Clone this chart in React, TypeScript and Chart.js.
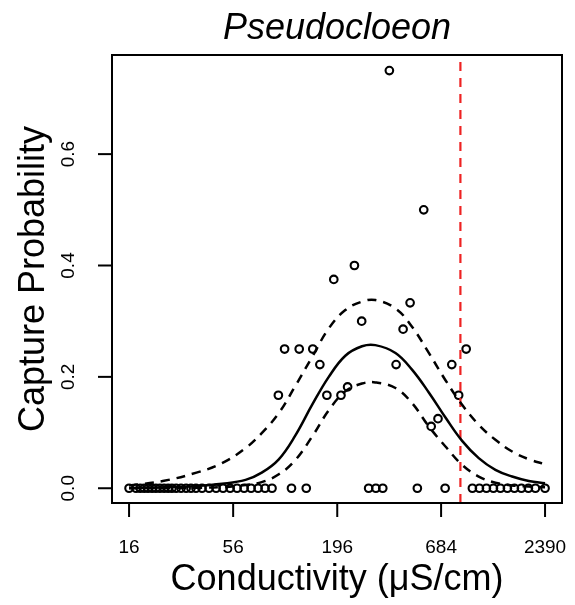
import React, { useEffect, useRef } from "react";
import { Chart, registerables } from "chart.js";

Chart.register(...registerables);

const TITLE = "Pseudocloeon";
const X_LABEL = "Conductivity (μS/cm)";
const Y_LABEL = "Capture Probability";
const X_TICKS = [16, 56, 196, 684, 2390];
const Y_TICKS = [0, 0.2, 0.4, 0.6];
const X_MIN = 13.03;
const X_MAX = 2931;
const Y_MIN = -0.0265;
const Y_MAX = 0.778;
const THRESHOLD = 863;

// observed capture probabilities (non-zero)
const OBS_COND_POS = [367, 555, 241, 188, 471, 263, 433, 104, 124, 146, 925, 159, 398, 778, 96.5, 173, 205, 845, 222, 659, 607];
const OBS_PROB_POS = [0.75, 0.5, 0.4, 0.375, 0.333, 0.3, 0.2857, 0.25, 0.25, 0.25, 0.25, 0.222, 0.222, 0.222, 0.167, 0.167, 0.167, 0.167, 0.182, 0.125, 0.111];
// observed sites with zero capture
const OBS_COND_ZERO = [16, 17.4, 18.3, 19.2, 20.1, 21.1, 22.1, 23.2, 24.4, 25.6, 26.8, 28.2, 29.9, 31.8, 33.7, 35.8, 38.5, 41.9, 45.6, 49.6, 54.0, 58.7, 63.9, 69.5, 75.6, 82.2, 89.4, 113, 135, 286, 312, 339, 514, 718, 997, 1085, 1180, 1284, 1397, 1519, 1653, 1798, 1956, 2128, 2390];

// fitted curve and confidence bounds
const CURVE_COND = [16, 24, 36, 49, 65, 79, 97, 118, 145, 177, 216, 264, 310, 395, 482, 590, 721, 881, 1076, 1315, 1608, 1965, 2390];
const CURVE_FIT = [0.0005, 0.0015, 0.004, 0.008, 0.015, 0.028, 0.052, 0.094, 0.15, 0.2, 0.238, 0.255, 0.257, 0.243, 0.213, 0.172, 0.127, 0.085, 0.054, 0.033, 0.021, 0.013, 0.009];
const CURVE_UPPER = [0.005, 0.013, 0.028, 0.045, 0.072, 0.099, 0.135, 0.183, 0.236, 0.287, 0.32, 0.335, 0.338, 0.323, 0.29, 0.243, 0.194, 0.15, 0.114, 0.087, 0.066, 0.052, 0.043];
const CURVE_LOWER = [0.0, 0.0005, 0.001, 0.002, 0.006, 0.011, 0.025, 0.05, 0.093, 0.14, 0.174, 0.188, 0.19, 0.18, 0.153, 0.111, 0.075, 0.042, 0.021, 0.01, 0.005, 0.003, 0.002];

const FONT = "'Liberation Sans', Arial, Helvetica, sans-serif";

const axesPlugin = {
  id: "rAxes",
  afterDraw(chart: any) {
    const { ctx, chartArea } = chart;
    const xs = chart.scales.x;
    const ys = chart.scales.y;
    ctx.save();
    ctx.strokeStyle = "#000";
    ctx.fillStyle = "#000";
    ctx.lineWidth = 2;
    ctx.strokeRect(chartArea.left, chartArea.top, chartArea.right - chartArea.left, chartArea.bottom - chartArea.top);

    // x ticks
    ctx.font = `19px ${FONT}`;
    ctx.textAlign = "center";
    ctx.textBaseline = "middle";
    X_TICKS.forEach((t) => {
      const px = xs.getPixelForValue(t);
      ctx.beginPath();
      ctx.moveTo(px, chartArea.bottom);
      ctx.lineTo(px, chartArea.bottom + 14);
      ctx.stroke();
      ctx.fillText(String(t), px, chartArea.bottom + 45);
    });
    // y ticks
    Y_TICKS.forEach((t) => {
      const py = ys.getPixelForValue(t);
      ctx.beginPath();
      ctx.moveTo(chartArea.left, py);
      ctx.lineTo(chartArea.left - 14, py);
      ctx.stroke();
      ctx.save();
      ctx.translate(chartArea.left - 43, py);
      ctx.rotate(-Math.PI / 2);
      ctx.fillText(t.toFixed(1), 0, 0);
      ctx.restore();
    });

    // axis titles
    const cx = (chartArea.left + chartArea.right) / 2;
    const cy = (chartArea.top + chartArea.bottom) / 2;
    ctx.font = `36px ${FONT}`;
    ctx.fillText(X_LABEL, cx, 580);
    ctx.save();
    ctx.translate(34, cy);
    ctx.rotate(-Math.PI / 2);
    ctx.fillText(Y_LABEL, 0, 0);
    ctx.restore();

    // title
    ctx.font = `italic 36px ${FONT}`;
    ctx.fillText(TITLE, cx, 29);
    ctx.restore();
  },
};

export default function App() {
  const ref = useRef<HTMLCanvasElement | null>(null);
  useEffect(() => {
    if (!ref.current) return;
    const pts = (xs: number[], ys: number[]) => xs.map((x, i) => ({ x, y: ys[i] }));
    const zeros = OBS_COND_ZERO.map((x) => ({ x, y: 0 }));
    const curveStyle = {
      showLine: true,
      pointRadius: 0,
      borderColor: "#000",
      borderWidth: 2.5,
      fill: false,
      tension: 0.4,
    };
    const chart = new Chart(ref.current, {
      type: "scatter",
      data: {
        datasets: [
          {
            label: "Fit",
            data: pts(CURVE_COND, CURVE_FIT),
            ...curveStyle,
          },
          {
            label: "Upper",
            data: pts(CURVE_COND, CURVE_UPPER),
            ...curveStyle,
            borderDash: [9, 7],
          },
          {
            label: "Lower",
            data: pts(CURVE_COND, CURVE_LOWER),
            ...curveStyle,
            borderDash: [9, 7],
          },
          {
            label: "Threshold",
            data: [
              { x: THRESHOLD, y: Y_MIN },
              { x: THRESHOLD, y: Y_MAX },
            ],
            showLine: true,
            pointRadius: 0,
            borderColor: "#ee2222",
            borderWidth: 2.2,
            borderDash: [9, 7],
          },
          {
            label: "Observed",
            data: [...pts(OBS_COND_POS, OBS_PROB_POS), ...zeros],
            pointStyle: "circle",
            pointRadius: 3.8,
            borderWidth: 2.1,
            borderColor: "#000",
            backgroundColor: "rgba(0,0,0,0)",
            showLine: false,
          },
        ],
      },
      options: {
        animation: false,
        responsive: false,
        devicePixelRatio: 1,
        layout: { padding: { left: 112, right: 13, top: 55, bottom: 102 } },
        plugins: { legend: { display: false }, tooltip: { enabled: false }, title: { display: false } },
        scales: {
          x: { type: "logarithmic", min: X_MIN, max: X_MAX, display: false },
          y: { type: "linear", min: Y_MIN, max: Y_MAX, display: false },
        },
      },
      plugins: [axesPlugin],
    });
    return () => chart.destroy();
  }, []);
  return (
    <div style={{ position: "fixed", left: 0, top: 0, width: 575, height: 605, background: "#fff" }}>
      <canvas ref={ref} width={575} height={605} />
    </div>
  );
}
